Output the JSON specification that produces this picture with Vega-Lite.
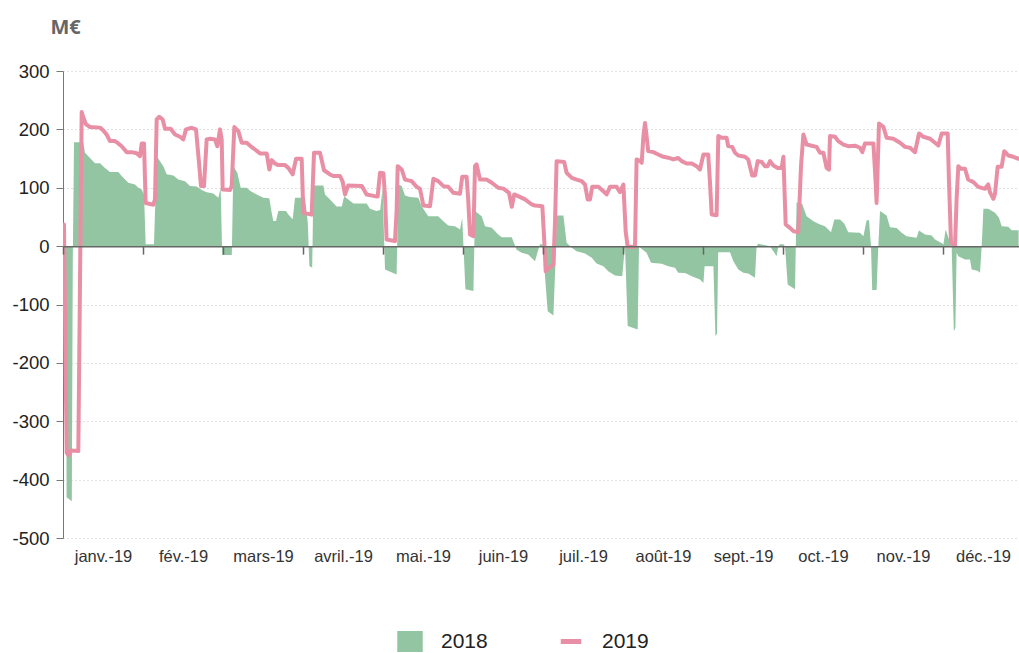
{
"$schema": "https://vega.github.io/schema/vega-lite/v6.json",
"width": 956, "height": 467,
"autosize": "none",
"padding": {"left": 63, "top": 71, "right": 0, "bottom": 115},
"background": "white",
"config": {"view": {"stroke": null}, "font": "Liberation Sans"},
"datasets": {
"s2018": [
{"j":0.75,"v":0},{"j":0.9,"v":-430},{"j":2.2,"v":-437},{"j":2.45,"v":-20},{"j":2.75,"v":178},{"j":5.08,"v":178},{"j":5.5,"v":160},{"j":6.75,"v":151},{"j":8,"v":142},{"j":9.25,"v":142},{"j":10.5,"v":134},{"j":11.75,"v":127},{"j":13.83,"v":127},{"j":14.67,"v":120},{"j":16.33,"v":108.5},{"j":18,"v":105.6},{"j":18.83,"v":100},{"j":19.67,"v":97},{"j":20.25,"v":88},{"j":20.67,"v":3},{"j":22.75,"v":3},{"j":23.42,"v":154},{"j":25.08,"v":137},{"j":25.92,"v":123},{"j":27.58,"v":121},{"j":28.83,"v":114},{"j":30.5,"v":111},{"j":31.75,"v":103},{"j":33.42,"v":102},{"j":34.67,"v":96},{"j":35.92,"v":92.5},{"j":37.58,"v":90},{"j":38.83,"v":83},{"j":39.42,"v":100},{"j":39.8,"v":-15},{"j":42.2,"v":-15},{"j":42.6,"v":137},{"j":43.58,"v":125.6},{"j":44.42,"v":100},{"j":45.92,"v":100},{"j":46.92,"v":94},{"j":48.42,"v":88.5},{"j":50.08,"v":83},{"j":51.58,"v":82},{"j":52.17,"v":57},{"j":52.58,"v":43},{"j":53.25,"v":43},{"j":53.83,"v":60},{"j":55.75,"v":60},{"j":56.33,"v":54},{"j":57.42,"v":46},{"j":58,"v":83},{"j":60.5,"v":83},{"j":61.2,"v":40},{"j":61.6,"v":-34},{"j":62.3,"v":-37},{"j":62.6,"v":104},{"j":65.1,"v":104},{"j":65.5,"v":88.5},{"j":66.75,"v":80},{"j":68.4,"v":68},{"j":69.7,"v":68},{"j":70.3,"v":85.6},{"j":71.3,"v":80},{"j":72.6,"v":73},{"j":75.9,"v":73},{"j":76.75,"v":64},{"j":78.4,"v":60},{"j":79.3,"v":62},{"j":79.9,"v":100},{"j":80.5,"v":-40},{"j":83.4,"v":-48.6},{"j":83.83,"v":105.6},{"j":84.67,"v":103},{"j":85.5,"v":86.8},{"j":86.75,"v":84},{"j":88.83,"v":83},{"j":89.67,"v":68.5},{"j":91.3,"v":51.3},{"j":93.8,"v":51.3},{"j":95.5,"v":40},{"j":96.3,"v":35.4},{"j":98,"v":34},{"j":99.25,"v":28.5},{"j":99.8,"v":48.5},{"j":100.6,"v":-74},{"j":102.6,"v":-77},{"j":103,"v":60},{"j":104.67,"v":51.3},{"j":105.5,"v":34},{"j":107.2,"v":31.3},{"j":108.8,"v":20},{"j":109.67,"v":15.4},{"j":112.2,"v":15},{"j":113.4,"v":-6},{"j":114.67,"v":-11.5},{"j":116.3,"v":-14.4},{"j":118,"v":-25.8},{"j":119,"v":-2},{"j":119.25,"v":3},{"j":119.9,"v":3},{"j":121.17,"v":-111.5},{"j":122.6,"v":-119},{"j":123.1,"v":-30},{"j":123.4,"v":52.5},{"j":125.1,"v":52.5},{"j":125.9,"v":5.7},{"j":127.2,"v":-2.9},{"j":128.4,"v":-8.6},{"j":130.5,"v":-12.6},{"j":132.2,"v":-20},{"j":133.4,"v":-29.8},{"j":135.1,"v":-34.3},{"j":136.3,"v":-43},{"j":138,"v":-50.3},{"j":139.8,"v":-51.5},{"j":140.5,"v":0},{"j":141.17,"v":-137},{"j":143.67,"v":-143},{"j":144,"v":0},{"j":144.67,"v":-5},{"j":145.9,"v":-11.5},{"j":147,"v":-28.6},{"j":149.67,"v":-30},{"j":151.3,"v":-34.3},{"j":153,"v":-37},{"j":153.8,"v":-45.8},{"j":155.5,"v":-46},{"j":157.2,"v":-51.5},{"j":159.25,"v":-57},{"j":160.1,"v":-63},{"j":160.4,"v":-34.4},{"j":162.6,"v":-34.4},{"j":163.1,"v":-154},{"j":163.5,"v":-150},{"j":163.8,"v":-10.4},{"j":166.75,"v":-10.4},{"j":167.6,"v":-25.8},{"j":168.83,"v":-40},{"j":170.1,"v":-45.8},{"j":171.3,"v":-47},{"j":173,"v":-54.3},{"j":173.4,"v":0},{"j":173.83,"v":3.9},{"j":176.75,"v":0},{"j":178.4,"v":-17.2},{"j":178.83,"v":0},{"j":179.25,"v":3},{"j":180.1,"v":3},{"j":180.5,"v":0},{"j":181.17,"v":-65.8},{"j":183,"v":-74},{"j":183.4,"v":75},{"j":184.8,"v":72},{"j":185.9,"v":51.3},{"j":187.6,"v":42.8},{"j":189.25,"v":37},{"j":190.5,"v":34},{"j":192,"v":23.9},{"j":192.83,"v":45.6},{"j":194.25,"v":45.6},{"j":195.3,"v":38.8},{"j":196.3,"v":23.9},{"j":199.25,"v":22.8},{"j":200.1,"v":17},{"j":200.9,"v":44.5},{"j":201.5,"v":44.5},{"j":202,"v":0},{"j":202.3,"v":-75},{"j":203.4,"v":-75},{"j":203.83,"v":0},{"j":204.25,"v":60},{"j":205.9,"v":52.5},{"j":206.75,"v":32.5},{"j":208.4,"v":31},{"j":209.67,"v":22.8},{"j":210.9,"v":17},{"j":213.4,"v":14.2},{"j":214,"v":26.8},{"j":215.5,"v":19.9},{"j":217.17,"v":18},{"j":218,"v":11.4},{"j":219.5,"v":5.7},{"j":220.1,"v":2.8},{"j":220.67,"v":28.5},{"j":221.3,"v":15},{"j":222.17,"v":0},{"j":222.7,"v":-145.8},{"j":223.1,"v":-140},{"j":223.4,"v":-11.5},{"j":223.83,"v":-17.2},{"j":225.5,"v":-23},{"j":226.75,"v":-23},{"j":227.17,"v":-40},{"j":228.67,"v":-42},{"j":229.25,"v":-45.8},{"j":229.67,"v":0},{"j":230.1,"v":63.9},{"j":231.3,"v":63.9},{"j":233,"v":57},{"j":234,"v":48.5},{"j":234.67,"v":34.2},{"j":236.3,"v":33},{"j":237.17,"v":27.4},{"j":238.9,"v":27.4}
],
"s2019": [
{"j":0.25,"v":37},{"j":0.92,"v":-354},{"j":1.4,"v":-358},{"j":2.0,"v":-350},{"j":3.83,"v":-351},{"j":4.67,"v":229.6},{"j":5.0,"v":222},{"j":5.75,"v":208.5},{"j":6.75,"v":204},{"j":9.25,"v":203},{"j":10.08,"v":198},{"j":10.92,"v":191},{"j":11.75,"v":180},{"j":13,"v":180},{"j":13.83,"v":176},{"j":14.67,"v":171},{"j":15.92,"v":161},{"j":17.17,"v":161},{"j":18.42,"v":159},{"j":19.25,"v":154},{"j":19.67,"v":176},{"j":20.25,"v":176},{"j":20.67,"v":74},{"j":22.58,"v":71},{"j":23,"v":80},{"j":23.42,"v":217},{"j":24.08,"v":221.6},{"j":24.92,"v":217},{"j":25.5,"v":201},{"j":26.92,"v":201},{"j":28,"v":191.3},{"j":29.25,"v":187.4},{"j":30.08,"v":183},{"j":30.75,"v":200},{"j":32.17,"v":202.7},{"j":33.25,"v":200},{"j":34.08,"v":137},{"j":34.5,"v":102.8},{"j":35.25,"v":102.8},{"j":35.92,"v":182.8},{"j":36.75,"v":184},{"j":38,"v":182.8},{"j":38.58,"v":171},{"j":39.25,"v":200},{"j":39.67,"v":183},{"j":39.92,"v":97},{"j":41.75,"v":96},{"j":42.17,"v":103},{"j":42.83,"v":204},{"j":43.83,"v":197},{"j":44.67,"v":177},{"j":45.92,"v":177},{"j":46.92,"v":171},{"j":48,"v":165.5},{"j":49.25,"v":158.8},{"j":50.92,"v":158.8},{"j":51.58,"v":131.3},{"j":52.17,"v":147.3},{"j":53,"v":141.6},{"j":53.83,"v":138.8},{"j":55.5,"v":138.8},{"j":56.33,"v":134},{"j":57.42,"v":122.8},{"j":58.25,"v":149.6},{"j":59.67,"v":149.6},{"j":60.08,"v":57},{"j":62.17,"v":54},{"j":62.75,"v":160},{"j":64.25,"v":160},{"j":65.25,"v":130},{"j":66.75,"v":122.8},{"j":67.58,"v":120},{"j":69.25,"v":120},{"j":69.9,"v":111},{"j":70.5,"v":88.5},{"j":71.3,"v":104},{"j":74.7,"v":103},{"j":75.9,"v":88.5},{"j":78,"v":85.6},{"j":78.67,"v":85},{"j":79.25,"v":125.6},{"j":80.1,"v":125},{"j":80.5,"v":85.6},{"j":80.9,"v":11.4},{"j":83,"v":8.5},{"j":83.4,"v":60},{"j":83.67,"v":137},{"j":84.67,"v":131.3},{"j":85.5,"v":114},{"j":87.17,"v":111.3},{"j":88.4,"v":101.6},{"j":89.25,"v":98},{"j":90.1,"v":69.6},{"j":91.75,"v":68.5},{"j":92.6,"v":115.3},{"j":93.8,"v":111.3},{"j":95.1,"v":102.7},{"j":96.3,"v":101.6},{"j":97.6,"v":91.3},{"j":99.25,"v":89.6},{"j":99.8,"v":118.8},{"j":100.9,"v":118.8},{"j":101.3,"v":80},{"j":101.75,"v":20},{"j":102.6,"v":17},{"j":103,"v":137},{"j":103.4,"v":140},{"j":104.25,"v":114},{"j":105.9,"v":114},{"j":107.2,"v":108.5},{"j":108.8,"v":100},{"j":110.1,"v":98.5},{"j":111.5,"v":91.3},{"j":112.2,"v":67.3},{"j":112.8,"v":88.5},{"j":113.8,"v":85.6},{"j":115.5,"v":80},{"j":117.2,"v":71.3},{"j":118,"v":69.6},{"j":119.83,"v":68.5},{"j":120.3,"v":11.4},{"j":120.67,"v":-43},{"j":121.3,"v":-39},{"j":122.6,"v":-31.5},{"j":123,"v":40},{"j":123.4,"v":145.6},{"j":125.3,"v":144},{"j":125.9,"v":125.6},{"j":127.2,"v":117},{"j":128.4,"v":114},{"j":129.67,"v":111.3},{"j":130.5,"v":105.6},{"j":131.17,"v":80},{"j":131.75,"v":80},{"j":132.3,"v":101.6},{"j":133.83,"v":101.6},{"j":135.1,"v":94},{"j":135.9,"v":88.5},{"j":136.75,"v":101.6},{"j":138.4,"v":101.6},{"j":139.25,"v":92.5},{"j":140.1,"v":105.6},{"j":140.67,"v":25},{"j":141.17,"v":-1.2},{"j":143,"v":-1.2},{"j":143.4,"v":148.5},{"j":144.25,"v":146},{"j":144.67,"v":142.8},{"j":145.1,"v":188.5},{"j":145.5,"v":211},{"j":145.9,"v":188.5},{"j":146.3,"v":162.7},{"j":147.6,"v":161},{"j":148.8,"v":157},{"j":150.1,"v":153},{"j":151.3,"v":151.5},{"j":152.6,"v":148.5},{"j":153.8,"v":151},{"j":154.67,"v":145.6},{"j":155.9,"v":141.6},{"j":157.2,"v":141.6},{"j":158.4,"v":137},{"j":159.25,"v":131.3},{"j":160.1,"v":157},{"j":161.3,"v":157},{"j":161.75,"v":108.5},{"j":162.17,"v":54.2},{"j":163.4,"v":53},{"j":163.83,"v":188.5},{"j":164.67,"v":185.6},{"j":165.9,"v":185.6},{"j":166.3,"v":171.3},{"j":167.3,"v":170},{"j":168,"v":160},{"j":168.83,"v":155.3},{"j":170.5,"v":153},{"j":171.3,"v":148.5},{"j":172.3,"v":121},{"j":173,"v":121},{"j":173.67,"v":145.6},{"j":174.67,"v":144},{"j":175.5,"v":137},{"j":176.17,"v":137},{"j":176.75,"v":145.6},{"j":177.6,"v":138},{"j":178.67,"v":134},{"j":179.67,"v":134},{"j":180.1,"v":153},{"j":180.67,"v":37},{"j":181.75,"v":31.3},{"j":182.6,"v":25.6},{"j":183.83,"v":24},{"j":184.5,"v":137},{"j":185.1,"v":191.3},{"j":185.9,"v":174},{"j":187.17,"v":172},{"j":188.4,"v":170},{"j":189.25,"v":160},{"j":190.1,"v":160},{"j":190.9,"v":134},{"j":191.5,"v":131},{"j":191.75,"v":188.5},{"j":193,"v":187.4},{"j":193.83,"v":179.9},{"j":195.1,"v":174},{"j":196.3,"v":171.3},{"j":198,"v":172},{"j":199.25,"v":168.5},{"j":199.83,"v":161},{"j":200.5,"v":175.9},{"j":202.6,"v":175.9},{"j":203.17,"v":108.5},{"j":203.4,"v":74},{"j":204,"v":210},{"j":205.1,"v":204.5},{"j":205.9,"v":185.6},{"j":207.6,"v":184},{"j":209.25,"v":177},{"j":210.5,"v":170},{"j":211.75,"v":168.5},{"j":213,"v":161},{"j":214,"v":193},{"j":215.1,"v":187.3},{"j":216.75,"v":183.9},{"j":218,"v":177},{"j":218.83,"v":172.5},{"j":219.67,"v":193},{"j":221.17,"v":193},{"j":221.5,"v":110},{"j":222,"v":5.7},{"j":223,"v":0},{"j":223.4,"v":80},{"j":223.83,"v":137},{"j":224.5,"v":132.5},{"j":225.5,"v":132.5},{"j":226.3,"v":114},{"j":227.6,"v":109.6},{"j":228.8,"v":101.6},{"j":230.5,"v":98.2},{"j":231.3,"v":105.6},{"j":231.75,"v":92},{"j":232.6,"v":81},{"j":233,"v":90},{"j":233.67,"v":135.9},{"j":234.67,"v":135.9},{"j":235.3,"v":162.7},{"j":236.3,"v":155.3},{"j":237.6,"v":153},{"j":238.9,"v":149.6}
]
},
"layer": [
{
"data": {"name": "s2018"},
"mark": {"type": "area", "clip": true, "interpolate": "linear"},
"encoding": {
"x": {"field": "j", "type": "quantitative",
"scale": {"domain": [0, 239], "nice": false, "zero": false},
"axis": {"values": [0,20,40,60,80,100,120,140,160,180,200,220], "offset": -291.875, "tickSize": 8, "tickColor": "#666", "tickWidth": 1.5, "domainColor": "#666", "domainWidth": 1.5, "labelPadding": 294, "labelOffset": 40, "labelFlush": false, "labelOverlap": false, "labelBound": false, "labelFontSize": 16.5, "labelColor": "#333", "grid": false, "title": null, "zindex": 1,
"labelExpr": "['janv.-19','fév.-19','mars-19','avril.-19','mai.-19','juin-19','juil.-19','août-19','sept.-19','oct.-19','nov.-19','déc.-19'][round(datum.value/20)]"}},
"y": {"field": "v", "type": "quantitative",
"scale": {"domain": [-500, 300], "nice": false},
"axis": {"values": [-500,-400,-300,-200,-100,0,100,200,300], "labelExpr": "toString(datum.value)", "grid": true, "gridColor": "#c4c4c4", "gridDash": [1,3], "gridWidth": 1, "domainColor": "#777", "tickColor": "#777", "tickSize": 7, "labelPadding": 7, "labelFontSize": 18.5, "labelColor": "#222", "zindex": 0,
"title": "M€", "titleAngle": 0, "titleAlign": "left", "titleBaseline": "alphabetic", "titleX": -13, "titleY": -38, "titleFontSize": 20, "titleColor": "#666", "titleFont": "Noto Sans", "titleFontWeight": "bold"}},
"y2": {"datum": 0},
"color": {"datum": "2018", "type": "nominal",
"scale": {"domain": ["2018", "2019"], "range": ["#93c5a3", "#e98fa5"]},
"legend": {"orient": "none", "legendX": 334, "legendY": 560, "direction": "horizontal", "title": null, "padding": 0, "symbolSize": 420, "clipHeight": 21, "labelFontSize": 21, "labelColor": "#222", "labelOffset": 18, "columnPadding": 70,
"encode": {"symbols": {"update": {
"shape": {"signal": "datum.value === '2018' ? 'square' : 'stroke'"},
"fill": {"signal": "datum.value === '2018' ? '#93c5a3' : 'transparent'"},
"stroke": {"signal": "datum.value === '2018' ? 'transparent' : '#e98fa5'"},
"strokeWidth": {"value": 5},
"opacity": {"value": 1}}}}}}
}
},
{
"data": {"name": "s2019"},
"mark": {"type": "line", "clip": true, "strokeWidth": 4, "strokeJoin": "round", "strokeCap": "round"},
"encoding": {
"x": {"field": "j", "type": "quantitative"},
"y": {"field": "v", "type": "quantitative"},
"color": {"datum": "2019", "type": "nominal"}
}
}
]
}
